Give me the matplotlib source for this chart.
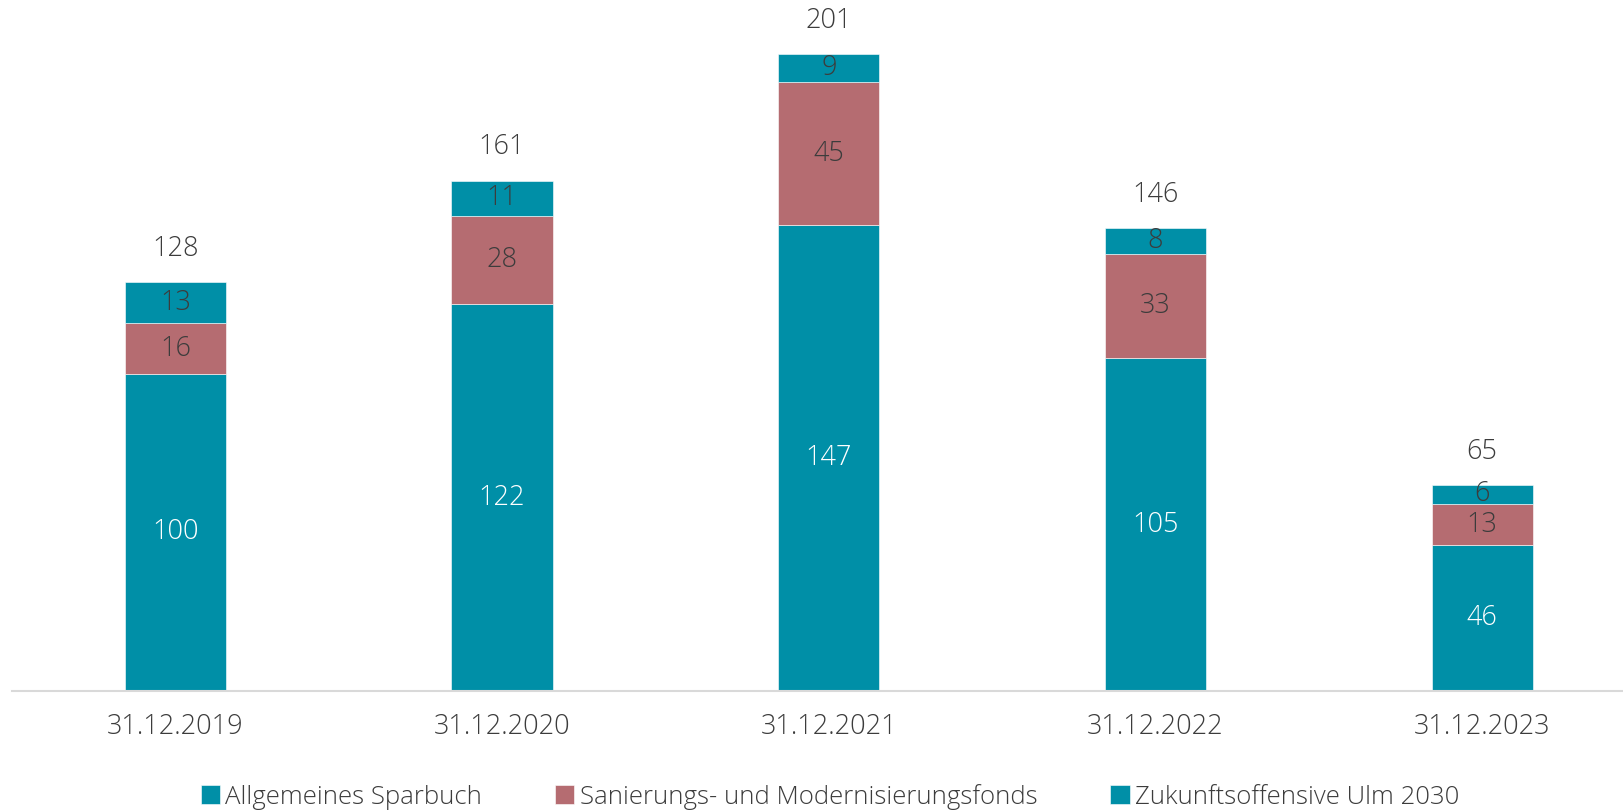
import matplotlib.pyplot as plt
import numpy as np

plt.rcParams['font.family'] = ['Open Sans', 'DejaVu Sans']

categories = ['31.12.2019', '31.12.2020', '31.12.2021', '31.12.2022', '31.12.2023']
series_names = ['Allgemeines Sparbuch', 'Sanierungs- und Modernisierungsfonds', 'Zukunftsoffensive Ulm 2030']
sparbuch = [100, 122, 147, 105, 46]
sanierung = [16, 28, 45, 33, 13]
zukunft = [13, 11, 9, 8, 6]
totals = [128, 161, 201, 146, 65]

teal = '#008FA7'
rose = '#B56C71'
dark = '#3C3C3C'

fig = plt.figure(figsize=(16.24, 8.10), dpi=100)
ax = fig.add_axes([0.0074, 0.147, 0.9926, 0.853])

x = np.arange(len(categories))
w = 0.31
series = [sparbuch, sanierung, zukunft]
colors = [teal, rose, teal]
label_colors = ['white', dark, dark]
bottom = np.zeros(len(categories))
for vals, col, lc, name in zip(series, colors, label_colors, series_names):
    vals = np.array(vals, dtype=float)
    ax.bar(x, vals, w, bottom=bottom, color=col, label=name,
           edgecolor='white', linewidth=0.4)
    for xi, b, v in zip(x, bottom, vals):
        ax.text(xi, b + v / 2, f'{int(v)}', ha='center', va='center',
                fontsize=19.5, color=lc, fontweight='light')
    bottom += vals

# totals above each stack
for xi, top, t in zip(x, bottom, totals):
    ax.text(xi, top + 10.5, f'{t}', ha='center', va='center', fontsize=19.5,
            color=dark, fontweight='light')

ax.set_xlim(-0.5, 4.434)
ax.set_ylim(0, 218)
ax.set_xticks(x)
ax.set_xticklabels(categories, fontsize=19.5, color=dark, fontweight='light')
ax.tick_params(axis='x', length=0, pad=16)
ax.set_yticks([])
for s in ['top', 'right', 'left']:
    ax.spines[s].set_visible(False)
ax.spines['bottom'].set_color('#D9D9D9')
ax.spines['bottom'].set_linewidth(1.5)

handles, labels = ax.get_legend_handles_labels()
leg = fig.legend(handles, labels, loc='lower center', ncol=3, frameon=False,
                 prop={'size': 18.5, 'weight': 'light'}, handlelength=0.75,
                 handleheight=0.75, handletextpad=0.2,
                 columnspacing=2.85, bbox_to_anchor=(0.511, -0.028))
for t in leg.get_texts():
    t.set_color(dark)

fig.savefig('out.png', dpi=100)
